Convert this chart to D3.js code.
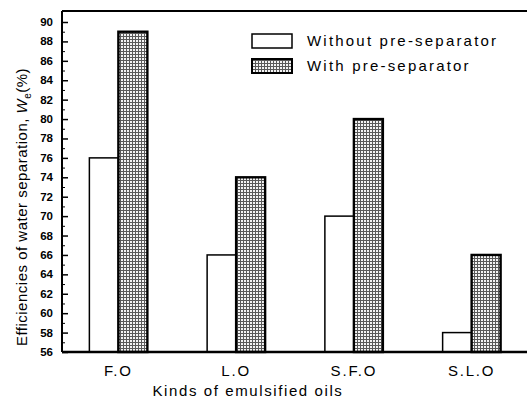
<!DOCTYPE html>
<html>
<head>
    <meta charset="UTF-8">
    <title>Efficiencies of water separation</title>
    <script src="https://d3js.org/d3.v7.min.js"></script>
    <style>
        body { margin: 0; background: #fff; }
        svg { display: block; }
        .tick-label { font-family: "Liberation Sans", Arial, sans-serif; font-size: 11.5px; font-weight: bold; }
        .cat-label, .axis-title, .legend-text { font-family: "Liberation Sans", Arial, sans-serif; fill: #000; }
    </style>
</head>
<body>
<div id="chart"></div>
<script>
    // data
    const categories = ["F.O", "L.O", "S.F.O", "S.L.O"];
    const seriesNames = ["Without pre-separator", "With pre-separator"];
    const withoutSep = [76, 66, 70, 58];
    const withSep = [89, 74, 80, 66];
    const yTicks = [56, 58, 60, 62, 64, 66, 68, 70, 72, 74, 76, 78, 80, 82, 84, 86, 88, 90];
    const yMinorTicks = [57, 59, 61, 63, 65, 67, 69, 71, 73, 75, 77, 79, 81, 83, 85, 87, 89];

    const width = 527, height = 400;
    const plotLeft = 62, plotTop = 11, plotBottom = 352, plotRight = 527;

    const svg = d3.select("#chart").append("svg")
        .attr("width", width).attr("height", height);

    // stipple pattern for the "with" bars
    const pat = svg.append("defs").append("pattern")
        .attr("id", "dots").attr("patternUnits", "userSpaceOnUse")
        .attr("width", 3).attr("height", 3);
    pat.append("rect").attr("width", 3).attr("height", 3).attr("fill", "#5a5a5a");
    pat.append("rect").attr("x", 1).attr("y", 1).attr("width", 2).attr("height", 2).attr("fill", "#f4f4f4");

    const y = d3.scaleLinear().domain([56, 90]).range([plotBottom, 22]);
    const x = d3.scalePoint().domain(categories).range([59.5, 530.5]).padding(0.5);
    const sub = d3.scaleBand().domain(seriesNames).range([-29, 29]);

    const rows = categories.map((c, i) => ({ cat: c, vals: [withoutSep[i], withSep[i]] }));

    // bars
    const g = svg.append("g");
    rows.forEach(r => {
        r.vals.forEach((v, j) => {
            g.append("rect")
                .attr("x", x(r.cat) + sub(seriesNames[j]))
                .attr("y", y(v))
                .attr("width", sub.bandwidth())
                .attr("height", y(56) - y(v))
                .attr("fill", j === 0 ? "#fff" : "url(#dots)")
                .attr("stroke", "#000")
                .attr("stroke-width", j === 0 ? 1.5 : 2.4);
        });
    });

    // frame: left, top, bottom
    svg.append("line").attr("x1", plotLeft).attr("x2", plotRight).attr("y1", plotTop).attr("y2", plotTop)
        .attr("stroke", "#000").attr("stroke-width", 2);
    svg.append("line").attr("x1", plotLeft).attr("x2", plotRight).attr("y1", plotBottom).attr("y2", plotBottom)
        .attr("stroke", "#000").attr("stroke-width", 2.5);

    // y axis, ticks pointing inward
    const yAxis = svg.append("g").attr("transform", `translate(${plotLeft},0)`)
        .call(d3.axisRight(y).tickValues(yTicks).tickSize(6).tickFormat(""));
    yAxis.select(".domain").attr("d", `M0,${plotTop}V${plotBottom}`).attr("stroke-width", 2);
    yAxis.selectAll(".tick line").attr("stroke-width", 1.5);
    svg.append("g").attr("transform", `translate(${plotLeft},0)`)
        .call(d3.axisRight(y).tickValues(yMinorTicks).tickSize(3).tickFormat(""))
        .call(a => a.select(".domain").remove());

    svg.selectAll(".tick-label").data(yTicks).enter().append("text")
        .attr("class", "tick-label")
        .attr("x", 53).attr("y", d => y(d) + 4)
        .attr("text-anchor", "end")
        .text(d => d);

    // category labels
    svg.selectAll(".cat-label").data(categories).enter().append("text")
        .attr("class", "cat-label")
        .attr("x", d => x(d)).attr("y", 376)
        .attr("text-anchor", "middle")
        .attr("font-size", 15).attr("letter-spacing", 1.8)
        .text(d => d);

    svg.append("text").attr("class", "axis-title")
        .attr("x", 248).attr("y", 396)
        .attr("text-anchor", "middle")
        .attr("font-size", 15).attr("letter-spacing", 1.6)
        .text("Kinds of emulsified oils");

    const yt = svg.append("text").attr("class", "axis-title")
        .attr("transform", `translate(27,207) rotate(-90)`)
        .attr("text-anchor", "middle")
        .attr("font-size", 15).attr("letter-spacing", 0.5);
    yt.append("tspan").text("Efficiencies of water separation, ");
    yt.append("tspan").attr("font-style", "italic").text("W");
    yt.append("tspan").attr("font-size", 10).attr("dy", 4).text("e");
    yt.append("tspan").attr("dy", -4).text("(%)");

    // legend
    const legend = svg.append("g");
    seriesNames.forEach((s, j) => {
        const ly = 34 + j * 25;
        legend.append("rect")
            .attr("x", 252).attr("y", ly).attr("width", 40).attr("height", 14)
            .attr("fill", j === 0 ? "#fff" : "url(#dots)")
            .attr("stroke", "#000").attr("stroke-width", j === 0 ? 1.5 : 2);
        legend.append("text").attr("class", "legend-text")
            .attr("x", 307).attr("y", ly + 12)
            .attr("font-size", 15).attr("letter-spacing", 2.2)
            .text(s);
    });
</script>
</body>
</html>
